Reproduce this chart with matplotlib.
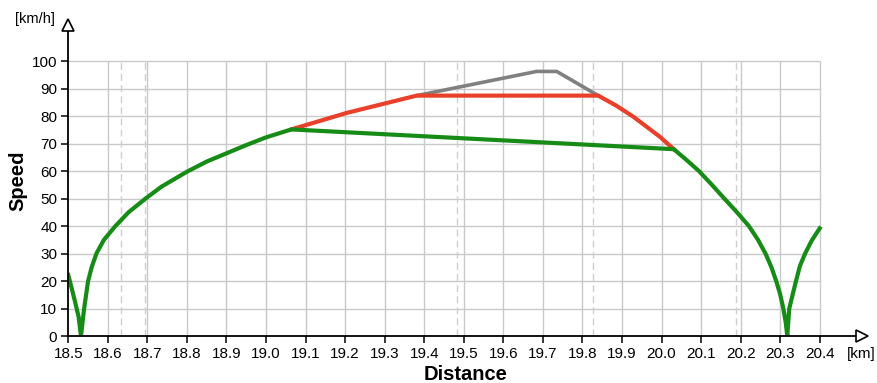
import numpy as np
import matplotlib
matplotlib.use("Agg")
import matplotlib.pyplot as plt

plt.rcParams['font.family'] = ['Liberation Sans', 'DejaVu Sans']

# Speed profile data [km] / [km/h]
green_x = [18.500, 18.516, 18.526, 18.532, 18.540, 18.550, 18.559, 18.571, 18.590,
           18.619, 18.652, 18.695, 18.736, 18.800, 18.850, 18.900, 18.950, 19.000,
           19.064,
           20.031, 20.063, 20.095, 20.127, 20.159, 20.191, 20.221, 20.244, 20.263,
           20.278, 20.290, 20.300, 20.308, 20.314, 20.318,
           20.323, 20.340, 20.350, 20.363, 20.380, 20.400]
green_y = [22.2, 13.1, 7.0, 0.0, 10.0, 20.0, 25.0, 30.0, 35.0,
           40.0, 45.0, 50.0, 54.4, 59.8, 63.5, 66.5, 69.5, 72.3,
           75.2,
           68.0, 64.1, 60.0, 55.1, 50.0, 45.0, 40.0, 35.0, 30.0,
           25.0, 20.0, 15.2, 10.0, 5.0, 0.0,
           10.0, 20.0, 25.5, 30.0, 34.8, 39.2]

red_x = [19.064, 19.204, 19.381, 19.840, 19.885, 19.929, 19.996, 20.031]
red_y = [75.2, 81.2, 87.5, 87.5, 83.9, 79.8, 72.5, 68.0]

gray_x = [19.381, 19.684, 19.735, 19.840]
gray_y = [87.5, 96.3, 96.3, 87.5]

marker_x = [18.633, 18.694, 19.482, 19.826, 20.188]

x_ticks = [round(18.5 + 0.1 * i, 1) for i in range(20)]
y_ticks = list(range(0, 101, 10))

fig = plt.figure(figsize=(8.78, 3.83), dpi=100)
ax = fig.add_axes([0.0778, 0.1227, 0.904, 0.812])
ax.set_xlim(18.5, 20.507)
ax.set_ylim(0, 113.2)

grid_c = '#c9c9c9'
ax.hlines(y_ticks[1:], x_ticks[0], x_ticks[-1], color=grid_c, lw=1.0, zorder=1)
ax.vlines(x_ticks[1:], 0, 100, color=grid_c, lw=1.0, zorder=1)
ax.vlines(marker_x, 0, 100, color='#cfcfcf', lw=1.0, linestyles=(0, (5, 3)), zorder=1)

ax.plot(gray_x, gray_y, color='#808080', lw=2.6, zorder=3, solid_joinstyle='round')
ax.plot(red_x, red_y, color='#e8402a', lw=3.0, zorder=4, solid_joinstyle='round')
ax.plot(green_x, green_y, color='#168c16', lw=3.0, zorder=5, solid_joinstyle='round')

for s in ('top', 'right'):
    ax.spines[s].set_visible(False)
for s in ('left', 'bottom'):
    ax.spines[s].set_linewidth(1.3)
    ax.spines[s].set_color('black')
    ax.spines[s].set_zorder(6)

ax.set_xticks(x_ticks)
ax.set_xticklabels([f"{v:.1f}" for v in x_ticks])
ax.set_yticks(y_ticks)
ax.tick_params(axis='both', direction='out', length=5, width=1.1, labelsize=11,
               colors='black', pad=3)

# arrow heads on the axes
ax.plot([1.0], [0.0], marker='>', ms=9, mfc='white', mec='black', mew=1.2,
        transform=ax.transAxes, clip_on=False, zorder=7)
ax.plot([0.0], [1.0], marker='^', ms=9, mfc='white', mec='black', mew=1.2,
        transform=ax.transAxes, clip_on=False, zorder=7)

ax.set_xlabel('Distance', fontsize=14.5, fontweight='bold', labelpad=3)
ax.set_ylabel('Speed', fontsize=14.5, fontweight='bold', labelpad=3)

fig.text(35 / 878, 1 - 19 / 383, '[km/h]', fontsize=10.5, ha='center', va='center')
fig.text(861 / 878, 1 - 354 / 383, '[km]', fontsize=11, ha='center', va='center')

fig.savefig('out.png', dpi=100)
